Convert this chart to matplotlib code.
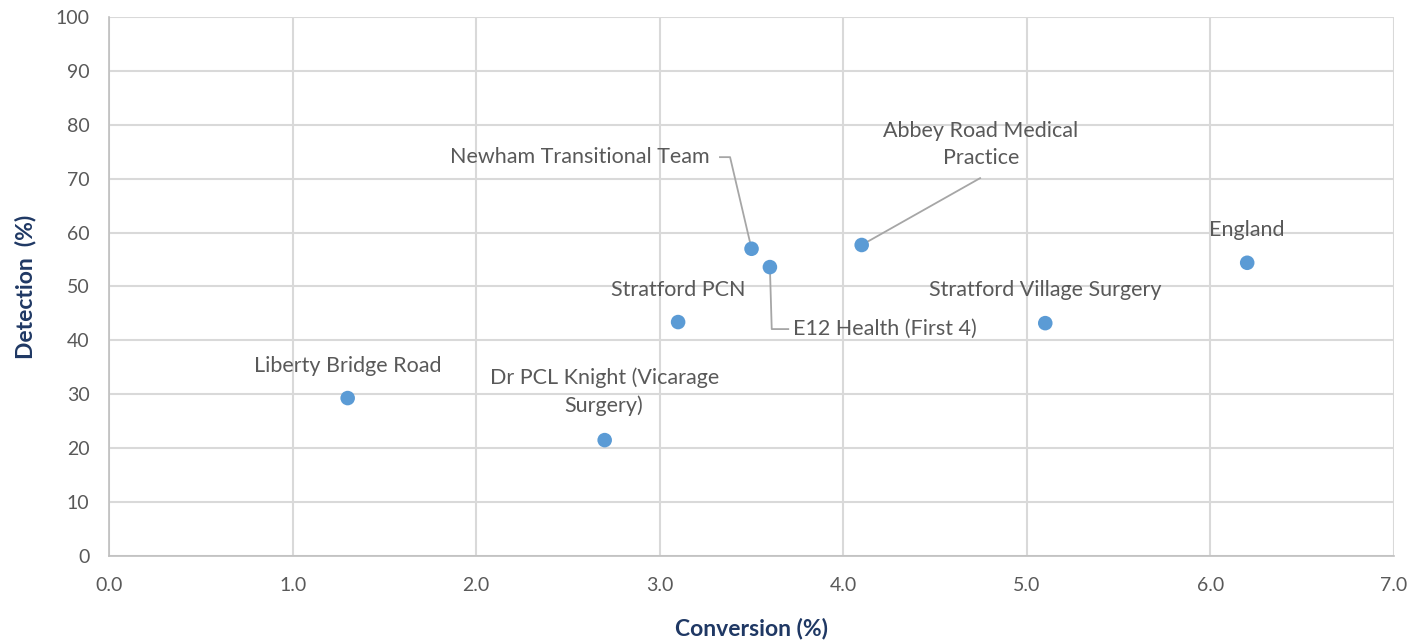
import matplotlib
matplotlib.use("Agg")
import matplotlib.pyplot as plt

names = ["Liberty Bridge Road", "Dr PCL Knight (Vicarage\nSurgery)", "Stratford PCN",
         "Newham Transitional Team", "E12 Health (First 4)", "Abbey Road Medical\nPractice",
         "Stratford Village Surgery", "England"]
conversion = [1.3, 2.7, 3.1, 3.5, 3.6, 4.1, 5.1, 6.2]
detection = [29.3, 21.5, 43.4, 57.0, 53.6, 57.7, 43.2, 54.4]

xticks = [0, 1, 2, 3, 4, 5, 6, 7]
yticks = list(range(0, 101, 10))

# label positions (data coords) and alignment
label_pos = [(1.30, 35.3, "center"), (2.697, 30.4, "center"), (3.10, 49.4, "center"),
             (3.274, 74.0, "right"), (3.726, 42.1, "left"), (4.75, 76.3, "center"),
             (5.10, 49.4, "center"), (6.20, 60.5, "center")]

plt.rcParams['font.family'] = ['Lato', 'DejaVu Sans']
fig = plt.figure(figsize=(14.14, 6.41), dpi=100)
ax = fig.add_axes([0.0771, 0.1326, 0.9088, 0.8409])
ax.set_xlim(0, 7)
ax.set_ylim(0, 100)
ax.set_xticks(xticks)
ax.set_xticklabels([f"{v:.1f}" for v in xticks])
ax.set_yticks(yticks)
ax.grid(True, color="#D9D9D9", linewidth=1.5)
ax.set_axisbelow(True)
for s in ["top", "right"]:
    ax.spines[s].set_visible(False)
for s in ["left", "bottom"]:
    ax.spines[s].set_color("#BFBFBF")
    ax.spines[s].set_linewidth(1.2)
ax.tick_params(length=0, labelsize=14, labelcolor="#595959")
ax.tick_params(axis="x", pad=15)
ax.tick_params(axis="y", pad=14)

lc = "#A6A6A6"
# leader lines
ax.plot([3.328, 3.383, conversion[3]], [74.0, 74.0, detection[3]], color=lc, lw=1.3, zorder=2)
ax.plot([4.745, conversion[5]], [70.1, detection[5]], color=lc, lw=1.3, zorder=2)
ax.plot([3.70, 3.61, conversion[4]], [42.1, 42.1, detection[4]], color=lc, lw=1.3, zorder=2)

ax.scatter(conversion, detection, s=110, color="#5B9BD5", zorder=3, edgecolors="none")

for n, (lx, ly, ha) in zip(names, label_pos):
    ax.text(lx, ly, n, ha=ha, va="center", fontsize=15.5, color="#595959", linespacing=1.45)

ax.set_xlabel("Conversion (%)", fontsize=16.5, fontweight="bold", color="#1F3864", labelpad=17)
ax.set_ylabel("Detection  (%)", fontsize=16.5, fontweight="bold", color="#1F3864", labelpad=14)

fig.savefig("out.png", dpi=100)
